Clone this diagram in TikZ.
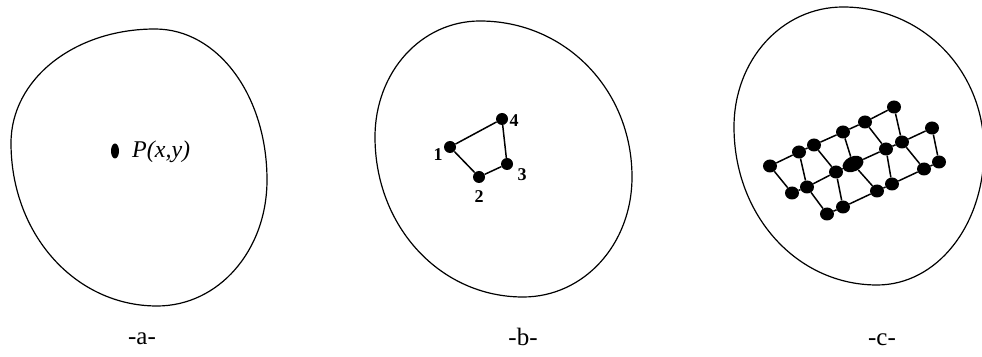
\documentclass[tikz,border=0pt]{standalone}
\usepackage{fontspec}
\setmainfont{Liberation Serif}
\usepackage{tikz}
\usetikzlibrary{shapes.geometric}
\tikzset{
  region/.style={line width=1.2pt, draw=black},
  dot/.style={circle, fill=black, inner sep=0pt, minimum size=12pt},
  site/.style={ellipse, fill=black, inner sep=0pt, minimum width=14pt, minimum height=13pt},
  link/.style={line width=1.5pt, draw=black},
  numlabel/.style={font=\fontsize{18}{20}\selectfont\bfseries, inner sep=0pt},
  pointlabel/.style={font=\fontsize{24}{28}\selectfont\itshape, anchor=west, inner sep=0pt},
  caption/.style={font=\fontsize{25}{28}\selectfont}
}
% closed outline through its left, top, right and bottom extreme points
\newcommand{\regionoutline}[8]{%
  \draw[region] (#1,#2) .. controls (#1,{#2+0.56*(#4-#2)}) and ({#3-0.56*(#3-#1)},#4) .. (#3,#4)
    .. controls ({#3+0.56*(#5-#3)},#4) and (#5,{#6+0.56*(#4-#6)}) .. (#5,#6)
    .. controls (#5,{#6-0.56*(#6-#8)}) and ({#7+0.56*(#5-#7)},#8) .. (#7,#8)
    .. controls ({#7-0.56*(#7-#1)},#8) and (#1,{#2-0.56*(#2-#8)}) .. cycle;
}

\begin{document}
\begin{tikzpicture}[x=1pt,y=1pt]
\useasboundingbox (0,0) rectangle (982,356);
\clip (0,0) rectangle (982,356);

% -a- a single point
\regionoutline{11}{213}{155}{327}{267}{176}{157}{50}
\node[ellipse, fill=black, inner sep=0pt, minimum width=8pt, minimum height=15pt] (p) at (115,205) {};
\node[pointlabel] (plabel) at (132,204) {P(x,y)};
\node[caption] (capa) at (142,17) {-a-};

% -b- four points
\regionoutline{375}{219}{480}{335}{632}{179}{523}{59}
\node[dot] (b1) at (450,209) {};
\node[dot] (b2) at (479,179) {};
\node[dot] (b3) at (507,192) {};
\node[dot] (b4) at (502,237) {};
\draw[link] (b1) -- (b4) -- (b3) -- (b2) -- (b1);
\node[numlabel] (l1) at (438,201) {1};
\node[numlabel] (l2) at (479,159) {2};
\node[numlabel] (l3) at (522,181) {3};
\node[numlabel] (l4) at (514,235) {4};
\node[caption] (capb) at (523,19) {-b-};

% -c- a grid of points
\regionoutline{734}{229}{843}{349}{984}{206}{877}{71}
\node[site] (c1) at (770,190) {};
\node[site] (c2) at (799,204) {};
\node[site] (c3) at (814,211) {};
\node[site] (c4) at (843,224) {};
\node[site] (c5) at (865,234) {};
\node[site] (c6) at (894,249) {};
\node[site] (c7) at (792,163) {};
\node[site] (c8) at (807,169) {};
\node[site] (c9) at (836,184) {};
\node[site, minimum width=22pt, minimum height=15pt, rotate=25] (c10) at (853,192) {};
\node[site] (c11) at (886,207) {};
\node[site] (c12) at (902,214) {};
\node[site] (c13) at (932,228) {};
\node[site] (c14) at (827,142) {};
\node[site] (c15) at (843,149) {};
\node[site] (c16) at (877,165) {};
\node[site] (c17) at (892,172) {};
\node[site] (c18) at (924,187) {};
\node[site] (c19) at (939,194) {};
\draw[link] (c1) -- (c2) -- (c3) -- (c4) -- (c5) -- (c6) -- (c12) -- (c11) -- (c10)
  -- (c9) -- (c8) -- (c7) -- (c1);
\draw[link] (c12) -- (c13) -- (c19) -- (c18) -- (c17) -- (c16) -- (c15) -- (c14) -- (c8);
\draw[link] (c2) -- (c8);
\draw[link] (c3) -- (c9) -- (c15);
\draw[link] (c4) -- (c10) -- (c16);
\draw[link] (c5) -- (c11) -- (c17);
\draw[link] (c12) -- (c18);
\node[caption] (capc) at (882,16) {-c-};
\end{tikzpicture}
\end{document}
